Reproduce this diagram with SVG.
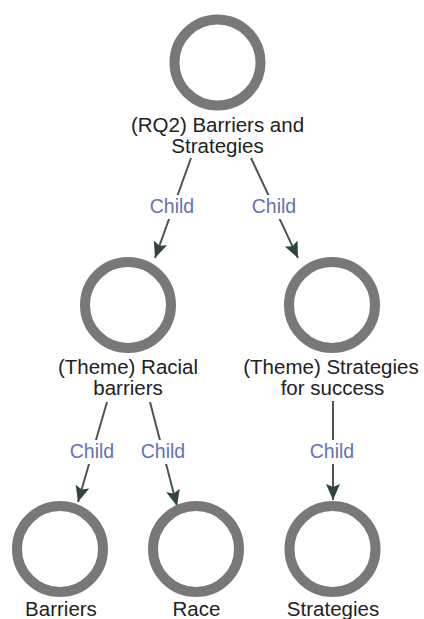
<svg xmlns="http://www.w3.org/2000/svg" width="424" height="619" viewBox="0 0 424 619">
<style>
.ring{fill:none;stroke:#787878;stroke-width:10}
.lbl{font-family:"Liberation Sans",Arial,sans-serif;font-size:20.5px;fill:#222;text-anchor:middle}
.edge{stroke:#4a5651;stroke-width:2;fill:none;marker-end:url(#arr)}
.el{font-family:"Liberation Sans",Arial,sans-serif;font-size:19.5px;fill:#6373b4;text-anchor:middle}
.bg{fill:#fff}
</style>
<defs>
<marker id="arr" markerUnits="userSpaceOnUse" markerWidth="18" markerHeight="16" refX="16" refY="7" orient="auto">
<path d="M0,0 L16,7 L0,14 L3,7 z" fill="#2e463d"/>
</marker>
</defs>
<rect width="424" height="619" fill="#fff"/>
<g id="connectors">
<path class="edge" d="M191,158 L155,258"/>
<path class="edge" d="M251,158 L298,258"/>
<path class="edge" d="M107,402 L78,502"/>
<path class="edge" d="M150,402 L177,506"/>
<path class="edge" d="M333,401 L333,500"/>
<rect class="bg" x="148" y="195" width="48" height="24"/>
<text class="el" x="172" y="213">Child</text>
<rect class="bg" x="250" y="195" width="48" height="24"/>
<text class="el" x="274" y="213">Child</text>
<rect class="bg" x="68" y="440" width="48" height="24"/>
<text class="el" x="92" y="458">Child</text>
<rect class="bg" x="139" y="440" width="48" height="24"/>
<text class="el" x="163" y="458">Child</text>
<rect class="bg" x="308" y="440" width="48" height="24"/>
<text class="el" x="332" y="458">Child</text>
</g>
<g id="n-rq2">
<circle class="ring" cx="217.5" cy="62.5" r="43"/>
<text class="lbl" x="217.5" y="132">(RQ2) Barriers and</text>
<text class="lbl" x="217.5" y="153">Strategies</text>
</g>
<g id="n-racial">
<circle class="ring" cx="128" cy="305" r="43"/>
<text class="lbl" x="128" y="373.5">(Theme) Racial</text>
<text class="lbl" x="128" y="395">barriers</text>
</g>
<g id="n-strat-success">
<circle class="ring" cx="332" cy="305" r="43"/>
<text class="lbl" x="331" y="373.5">(Theme) Strategies</text>
<text class="lbl" x="332.5" y="395">for success</text>
</g>
<g id="n-barriers">
<circle class="ring" cx="60" cy="549" r="43"/>
<text class="lbl" x="61" y="616">Barriers</text>
</g>
<g id="n-race">
<circle class="ring" cx="196" cy="549" r="43"/>
<text class="lbl" x="196.5" y="616">Race</text>
</g>
<g id="n-strategies">
<circle class="ring" cx="332.5" cy="549" r="43"/>
<text class="lbl" x="333" y="616">Strategies</text>
</g>
</svg>
